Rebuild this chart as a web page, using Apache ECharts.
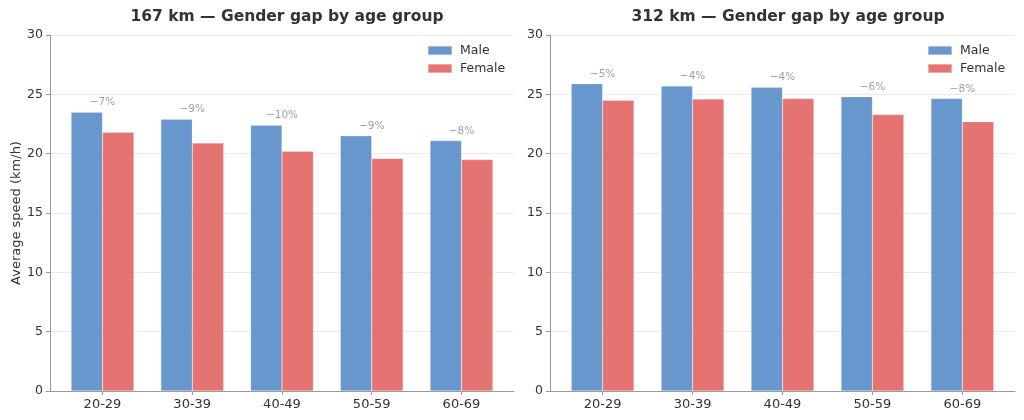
<!DOCTYPE html>
<html>
<head>
<meta charset="utf-8">
<script src="https://cdn.jsdelivr.net/npm/echarts@6/dist/echarts.min.js"></script>
<style>html,body{margin:0;padding:0;background:#fff}#c{width:1024px;height:420px}</style>
</head>
<body>
<div id="c"></div>
<script>
var categories = ['20-29', '30-39', '40-49', '50-59', '60-69'];
var male167 = [23.5, 22.9, 22.4, 21.5, 21.1];
var female167 = [21.8, 20.9, 20.2, 19.6, 19.5];
var gap167 = ['\u22127%', '\u22129%', '\u221210%', '\u22129%', '\u22128%'];
var male312 = [25.9, 25.7, 25.6, 24.8, 24.65];
var female312 = [24.5, 24.6, 24.65, 23.3, 22.7];
var gap312 = ['\u22125%', '\u22124%', '\u22124%', '\u22126%', '\u22128%'];
var yTicks = [0, 5, 10, 15, 20, 25, 30];
var titles = ['167 km \u2014 Gender gap by age group', '312 km \u2014 Gender gap by age group'];

var FONT = 'DejaVu Sans';
var MALE = 'rgba(77,133,196,0.85)';
var FEMALE = 'rgba(223,90,89,0.85)';
var idx = categories.map(function (c, k) { return k; });

function xAx(i) {
  return {
    type: 'value', gridIndex: i, min: -0.585, max: categories.length - 1 + 0.585,
    axisLine: { show: true, onZero: false, lineStyle: { color: '#999', width: 1 } },
    axisTick: { show: true, customValues: idx, length: 4, lineStyle: { color: '#999' } },
    axisLabel: {
      color: '#333', fontSize: 13, fontFamily: FONT, margin: 7, customValues: idx,
      formatter: function (v) { return categories[Math.round(v)]; }
    },
    splitLine: { show: false }
  };
}
function yAx(i) {
  return {
    type: 'value', gridIndex: i, min: yTicks[0], max: yTicks[yTicks.length - 1], interval: 5,
    name: i === 0 ? 'Average speed (km/h)' : '', nameLocation: 'middle', nameGap: 27,
    nameTextStyle: { color: '#333', fontSize: 13, fontFamily: FONT },
    axisLine: { show: true, onZero: false, lineStyle: { color: '#999', width: 1 } },
    axisTick: { show: true, length: 4, lineStyle: { color: '#999' } },
    axisLabel: { color: '#333', fontSize: 12.5, fontFamily: FONT, margin: 7 },
    splitLine: { show: true, lineStyle: { color: '#ebebeb', width: 1 } }
  };
}
function bars(name, data, color, i) {
  return {
    name: name, type: 'bar', xAxisIndex: i, yAxisIndex: i,
    data: data.map(function (v, k) { return [k, v]; }),
    barWidth: 31.4, barGap: '0%',
    itemStyle: { color: color, borderColor: 'rgba(255,255,255,0.4)', borderWidth: 0.5 },
    emphasis: { disabled: true }
  };
}
function gapLabels(male, female, gaps, i) {
  return {
    type: 'scatter', xAxisIndex: i, yAxisIndex: i, symbolSize: 0, silent: true,
    data: male.map(function (m, k) { return { value: [k, Math.max(m, female[k])], gap: gaps[k] }; }),
    label: {
      show: true, position: 'top', distance: 4, color: '#888', fontSize: 10.5, fontFamily: FONT,
      formatter: function (p) { return p.data.gap; }
    }
  };
}
function legend(left) {
  return {
    data: ['Male', 'Female'], orient: 'vertical', left: left, top: 44, padding: 0,
    itemWidth: 24, itemHeight: 9, itemGap: 5,
    textStyle: { color: '#333', fontSize: 12.5, fontFamily: FONT, padding: [0, 0, 0, 3] }, icon: 'rect'
  };
}

var chart = echarts.init(document.getElementById('c'));
chart.setOption({
  animation: false,
  title: [
    { text: titles[0], left: 282, top: 4, textAlign: 'center', textStyle: { color: '#333', fontSize: 15.5, fontWeight: 'bold', fontFamily: FONT } },
    { text: titles[1], left: 783, top: 4, textAlign: 'center', textStyle: { color: '#333', fontSize: 15.5, fontWeight: 'bold', fontFamily: FONT } }
  ],
  legend: [legend(427), legend(927)],
  grid: [
    { left: 50, top: 35, width: 464, height: 356 },
    { left: 550, top: 35, width: 465, height: 356 }
  ],
  xAxis: [xAx(0), xAx(1)],
  yAxis: [yAx(0), yAx(1)],
  series: [
    bars('Male', male167, MALE, 0),
    bars('Female', female167, FEMALE, 0),
    gapLabels(male167, female167, gap167, 0),
    bars('Male', male312, MALE, 1),
    bars('Female', female312, FEMALE, 1),
    gapLabels(male312, female312, gap312, 1)
  ]
});
</script>
</body>
</html>
